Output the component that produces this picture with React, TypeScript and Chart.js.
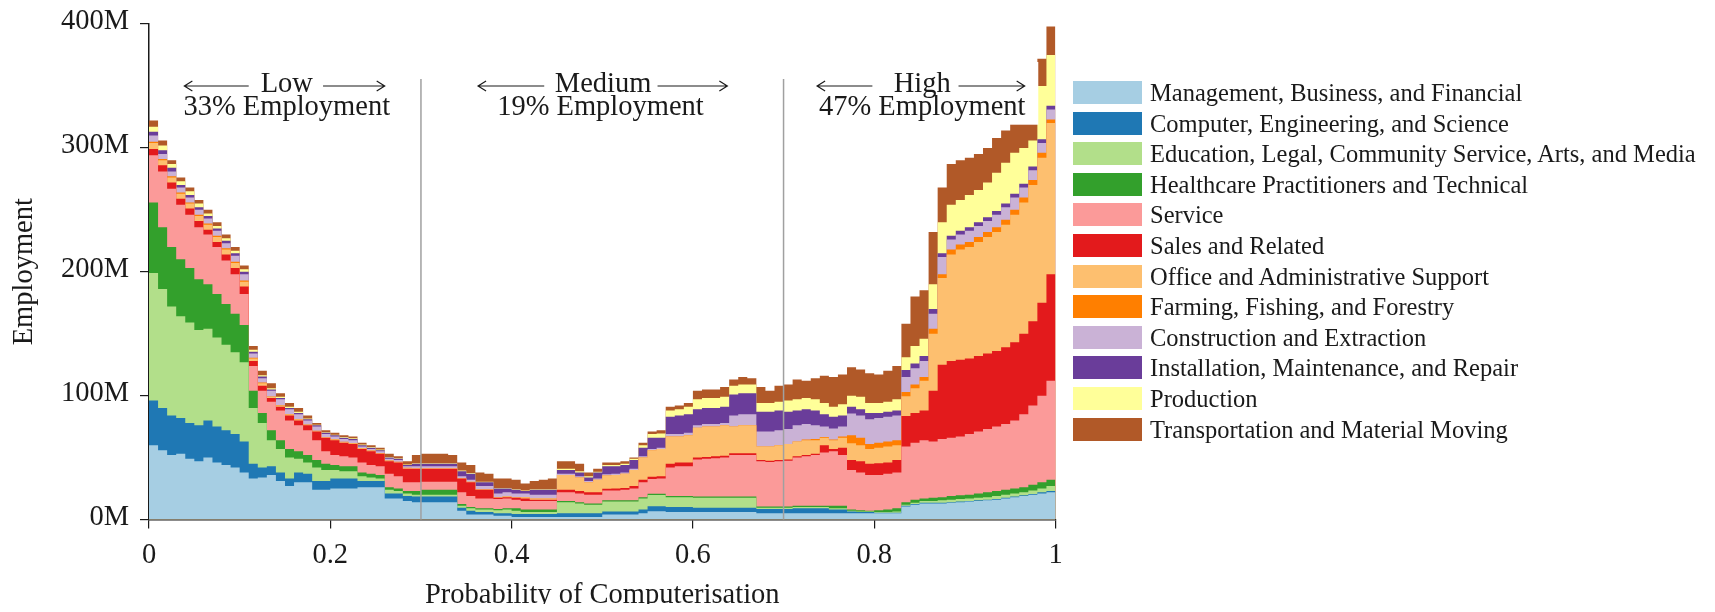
import React, { useEffect, useRef } from 'react';
import { Chart, registerables } from 'chart.js';

Chart.register(...registerables);

// Probability of computerisation (left edge of each step)
const probability = [
  0, 0.01, 0.02, 0.03, 0.04, 0.05, 0.06, 0.07, 0.08, 0.09,
  0.1, 0.11, 0.12, 0.13, 0.14, 0.15, 0.16, 0.17, 0.18, 0.19,
  0.2, 0.21, 0.22, 0.23, 0.24, 0.25, 0.26, 0.27, 0.28, 0.29,
  0.3, 0.31, 0.32, 0.33, 0.34, 0.35, 0.36, 0.37, 0.38, 0.39,
  0.4, 0.41, 0.42, 0.43, 0.44, 0.45, 0.46, 0.47, 0.48, 0.49,
  0.5, 0.51, 0.52, 0.53, 0.54, 0.55, 0.56, 0.57, 0.58, 0.59,
  0.6, 0.61, 0.62, 0.63, 0.64, 0.65, 0.66, 0.67, 0.68, 0.69,
  0.7, 0.71, 0.72, 0.73, 0.74, 0.75, 0.76, 0.77, 0.78, 0.79,
  0.8, 0.81, 0.82, 0.83, 0.84, 0.85, 0.86, 0.87, 0.88, 0.89,
  0.9, 0.91, 0.92, 0.93, 0.94, 0.95, 0.96, 0.97, 0.98, 0.99,
  1,
];

// Employment (millions) per occupational category
const management = [
  60, 56, 52, 53, 49, 47, 50, 46, 44, 42,
  38, 33, 34, 36, 31, 27, 30, 30, 24, 24,
  25, 25, 25, 26, 26, 26, 17, 17, 15, 14,
  14, 14, 14, 14, 7, 4, 4, 4, 3, 3,
  2, 2, 2, 2, 2, 2, 2, 2, 2, 2,
  4, 4, 4, 4, 5, 6.7, 6.7, 6, 6, 6,
  6, 6, 6, 6, 6, 6, 6, 5, 5, 5,
  5, 5, 5, 5, 5, 5, 5, 5, 5, 5,
  5, 5, 5, 10.5, 12, 13, 13, 13, 13.5, 14,
  14.5, 15, 15.5, 16, 17, 18, 19, 20, 21, 22,
  22,
];
const computer = [
  36, 34, 32, 29, 29, 29, 30, 29, 28, 27,
  25, 12, 8, 7, 7, 6, 8, 7, 7, 7,
  8, 8, 8, 5, 5, 5, 4, 4, 4, 4.5,
  4.5, 4.5, 4.5, 4.5, 2.5, 3, 2, 2, 2, 2,
  2.5, 2.5, 2.5, 2.5, 2.5, 3, 3, 3, 3, 3,
  2.5, 2.5, 2.5, 2.5, 3, 4, 4, 4, 4, 4,
  3.5, 3.5, 3.5, 3.5, 3.5, 3.5, 3.5, 3.5, 3.5, 3.5,
  3.5, 4, 4, 4, 4, 3, 3, 1.5, 1, 1,
  0.5, 0.5, 0.5, 0.5, 0.5, 0.5, 0.5, 0.5, 0.5, 0.5,
  0.5, 0.5, 0.5, 0.5, 0.5, 0.5, 0.5, 0.5, 1, 1,
  1,
];
const education = [
  103, 96, 88, 82, 81, 77, 74, 72, 69, 66,
  64, 45, 36, 21, 19, 17, 11, 9, 11, 9,
  7, 6, 6, 4, 3, 2, 3, 2, 2, 1.5,
  1.5, 1.5, 1.5, 1.5, 1.5, 2, 2, 2, 2.5, 3,
  2.5, 1.5, 1.5, 1.5, 1.5, 9, 9, 8, 7, 7,
  8, 8, 8, 8, 9, 9, 9, 8, 8, 8,
  8, 8, 8, 8, 8, 8, 8, 1, 1, 1,
  1, 1, 1, 1, 1, 1, 1, 0.5, 0.5, 0.5,
  0.5, 0.5, 1, 1, 1, 1.5, 1.5, 2, 2, 2,
  2, 2, 2, 2.5, 2.5, 2.5, 2.5, 3, 3, 4,
  4,
];
const healthcare = [
  57, 50, 48, 46, 44, 41, 36, 35, 33, 31,
  30, 14, 8, 8, 7, 7, 6, 6, 6, 5,
  4, 4, 4, 3, 3, 3, 2, 2, 2, 3,
  4, 4, 4, 4, 1.5, 1, 1, 1, 1, 1,
  2, 2, 2, 2, 2, 1, 1, 1, 1, 1,
  1, 1, 1, 1, 1, 1, 1, 1, 1, 1,
  1, 1, 1, 1, 1, 1, 1, 1, 1, 1,
  1, 1, 1, 1, 1, 2, 2, 1, 1, 0.5,
  1.5, 2, 2.5, 2, 2.5, 2, 2.5, 2.5, 3, 3,
  3, 3.5, 4, 4, 4, 4, 4, 4.5, 5, 5,
  5,
];
const service = [
  38, 45, 47, 44, 43, 42, 40, 38, 35, 32,
  25, 20, 18, 23, 24, 23, 21, 20, 16, 10,
  8, 8, 7, 8, 7, 7, 11, 10, 7, 7,
  6.5, 6.5, 6.5, 6.5, 9.5, 9, 8, 8, 8, 8,
  7, 7, 7, 7, 7, 7, 7, 7, 7, 7,
  8, 8, 8.5, 9.5, 12, 12, 12.3, 23, 24, 24,
  30, 30.5, 31, 31.5, 33.5, 33.5, 33.5, 36.5, 36, 36.5,
  37, 39, 40, 41, 43, 44, 41, 32, 30.5, 29,
  28.5, 29, 29, 45, 46, 47, 45.5, 47, 47, 47.5,
  49, 50, 51, 52, 53, 55, 59, 64, 70, 80,
  80,
];
const sales = [
  5, 5, 5, 5, 5, 5, 4, 4, 5, 5,
  6, 4, 4, 3, 3, 4, 4, 4, 7, 11,
  12, 11, 11, 11, 11, 10, 10, 11, 11, 11,
  10.5, 10.5, 10.5, 10.5, 11, 11, 7, 7, 1, 1,
  1.5, 2, 1, 1, 1, 2, 2, 2, 2, 2,
  1.3, 1.5, 1.5, 2, 2, 1.8, 2, 3, 3, 3,
  1.5, 1.5, 1.5, 1.5, 1.5, 1.5, 1.5, 1, 1, 1,
  1, 1, 1, 1, 6, 2, 6, 8, 9, 9,
  9.5, 9, 10, 24.5, 24, 24, 41, 60, 62, 62,
  61, 61, 61, 61, 62, 63, 65, 68, 75, 86,
  86,
];
const office = [
  5, 4, 4, 4, 4, 4, 4, 4, 4, 4,
  4, 2, 2, 1, 1, 1, 1, 0.5, 0.5, 0.5,
  0.5, 0.5, 0.5, 0.5, 0.5, 0.5, 0.5, 0.5, 0.5, 0.5,
  0.5, 0.5, 0.5, 0.5, 0.5, 0.5, 0.5, 0.5, 0.5, 0.5,
  0.5, 1, 1, 1, 1, 12, 12, 11, 8, 10,
  10.8, 11, 11.5, 13, 18, 21.5, 22, 22, 21, 22,
  24, 24.5, 24, 24.5, 21.5, 22.5, 22.5, 11, 11.5, 12,
  12.5, 12, 12, 11, 6, 7, 8, 13.5, 13, 12,
  12.5, 13, 12, 16, 20, 24, 46, 70, 86, 89,
  90, 92, 94, 96, 99, 103, 106, 110, 117, 122,
  122,
];
const farming = [
  1, 1, 1, 1, 1, 1, 1, 1, 1, 1,
  1, 0.5, 0.5, 0.2, 0.2, 0.2, 0.2, 0.2, 0.2, 0.2,
  0.2, 0.2, 0.2, 0.2, 0.2, 0.2, 0.2, 0.2, 0.2, 0,
  0, 0, 0, 0, 0, 0, 0, 0, 0, 0,
  0, 0, 0, 0, 0, 0, 0, 0, 0, 0,
  0, 0, 0, 0, 0, 0, 0, 0, 0, 0,
  0, 0, 0, 0, 0, 0, 0, 0, 0, 0,
  0, 0, 0.5, 1, 0.5, 0.5, 1, 6.5, 6, 4,
  4, 4, 4, 3.5, 3, 3, 4, 3, 4, 4,
  4, 4, 4, 4, 4, 4, 4, 4, 4, 3,
  3,
];
const construction = [
  5, 4, 4, 4, 4, 4, 4, 4, 4, 5,
  5, 3.5, 3.5, 4.8, 4.8, 3.8, 3.8, 3.3, 3.3, 2.3,
  2.3, 2.3, 2.3, 1.3, 1.3, 1.3, 1.3, 1.3, 1.3, 1.5,
  1.5, 1.5, 1.5, 1.5, 1.5, 1.5, 2.5, 2.5, 3, 3.5,
  3, 3, 3, 3, 3, 1, 1, 1, 1, 1,
  1, 1, 1, 1, 1, 1, 1, 2, 2, 2,
  2, 2, 2, 2, 9, 9, 9, 12, 12, 12,
  12, 13, 12.5, 11, 8.5, 9, 8, 17.5, 18, 20,
  20, 20, 20, 12, 13, 13, 12, 14, 8, 8,
  9, 9, 9, 10, 10, 10, 8, 8, 8, 8,
  8,
];
const installation = [
  3, 3, 3, 2, 2, 2, 2, 2, 2, 2,
  2, 1.5, 1.5, 1, 1, 1, 1, 1, 1, 1,
  1, 1, 1, 1, 1, 1, 1, 1, 1, 2,
  2, 2, 2, 2, 4, 5, 3, 3, 4, 3,
  3, 2, 4, 4, 4, 3, 3, 3, 3, 5,
  6.4, 6, 6, 7, 7, 9, 8, 14, 15, 15,
  13, 13, 13, 13, 17, 17, 17, 16, 16, 16,
  14, 12, 12, 12, 10, 9.5, 9, 5.5, 5, 5,
  4, 4, 4, 5.6, 4, 4, 4, 3, 3, 3,
  3, 3, 3, 3, 3, 3, 3, 3, 3, 3,
  3,
];
const production = [
  4, 4, 3, 3, 3, 3, 2, 2, 2, 2,
  2, 1.5, 1, 1, 1, 1, 1, 0.5, 0.5, 0.5,
  0.5, 0.5, 0.5, 0.5, 0.5, 0.5, 0.5, 0.5, 0.5, 0.5,
  0.5, 0.5, 0.5, 0.5, 0.5, 0.5, 0.5, 0.5, 0.5, 0.5,
  0.5, 0.5, 0.5, 0.5, 0.5, 1, 1, 1, 1, 0.5,
  1, 1, 1, 1, 2, 3, 3.5, 5, 5, 6,
  8, 8, 8, 8, 7, 7, 7, 7, 7, 7,
  9, 9, 9, 9, 9, 8, 9, 9, 10, 8,
  8, 8, 9, 10.4, 14, 14, 20, 25, 25, 25,
  26, 26, 28, 31, 33, 33, 29, 21, 43, 41,
  41,
];
const transportation = [
  5, 4, 3, 3, 3, 3, 3, 3, 3, 3,
  3, 3, 3.5, 4, 3, 3, 3, 2.5, 1.5, 1.5,
  1.5, 1.5, 1.5, 1.5, 1.5, 1.5, 2.5, 1.5, 2.5, 6.5,
  7.5, 7.5, 7.5, 6.5, 6.5, 6.5, 7.5, 6.5, 7.5, 7.5,
  7.5, 5.5, 6.5, 7.5, 8.5, 6, 6, 6, 3, 2.5,
  2, 2, 2, 1, 2, 2, 2.5, 3, 3, 3,
  7, 7, 7, 8, 5, 6, 5, 13, 10, 13,
  13, 16, 14, 17, 22, 24, 24, 23, 22, 24,
  23, 25, 27, 27, 40, 39, 42, 28, 33, 32,
  30, 29, 28, 28, 26, 24, 26, 32, 22, 23,
  23,
];

const seriesNames = [
  'Management, Business, and Financial',
  'Computer, Engineering, and Science',
  'Education, Legal, Community Service, Arts, and Media',
  'Healthcare Practitioners and Technical',
  'Service',
  'Sales and Related',
  'Office and Administrative Support',
  'Farming, Fishing, and Forestry',
  'Construction and Extraction',
  'Installation, Maintenance, and Repair',
  'Production',
  'Transportation and Material Moving',
];
const seriesColors = [
  '#a6cee3', '#1f78b4', '#b2df8a', '#33a02c', '#fb9a99', '#e31a1c',
  '#fdbf6f', '#ff7f00', '#cab2d6', '#6a3d9a', '#ffff99', '#b15928',
];

const xTicks = [0, 0.2, 0.4, 0.6, 0.8, 1];
const yTicks = [0, 100, 200, 300, 400];

const zoneNames = ['Low', 'Medium', 'High'];
const zoneShares = ['33% Employment', '19% Employment', '47% Employment'];
const zoneBoundaries = [0.3, 0.7];

const SERIF = '"Liberation Serif", "Times New Roman", serif';
const W = 1715;
const H = 612;

export default function App() {
  const ref = useRef<HTMLCanvasElement>(null);

  useEffect(() => {
    const canvas = ref.current;
    if (!canvas) return;
    const series = [
      management, computer, education, healthcare, service, sales,
      office, farming, construction, installation, production, transportation,
    ];
    // Each layer is filled from its stacked top down to zero; datasets are drawn
    // from the last to the first, so lower layers cover the upper ones seamlessly.
    const datasets = series.map((vals, i) => ({
      label: seriesNames[i],
      data: vals.map((v, j) => ({ x: probability[j], y: v })),
      backgroundColor: seriesColors[i],
      borderColor: 'transparent',
      borderWidth: 0,
      pointRadius: 0,
      pointHoverRadius: 0,
      stepped: 'before' as const,
      tension: 0,
      fill: 'origin',
    }));

    const zonePlugin = {
      id: 'zones',
      afterDatasetsDraw(chart: any) {
        const { ctx, chartArea } = chart;
        const xs = chart.scales.x;
        const top = chartArea.top;
        const px = (v: number) => xs.getPixelForValue(v);
        ctx.save();
        // white box behind the "High" label
        ctx.fillStyle = '#ffffff';
        ctx.fillRect(px(0.733), top + 38, px(0.981) - px(0.733), 62.7);
        // boundary lines
        ctx.strokeStyle = '#a0a0a0';
        ctx.lineWidth = 1.5;
        zoneBoundaries.forEach((b) => {
          ctx.beginPath();
          ctx.moveTo(px(b), top + 55);
          ctx.lineTo(px(b), chartArea.bottom);
          ctx.stroke();
        });
        // labels
        const nameCenters = [0.152, 0.501, 0.853];
        const shareCenters = [0.152, 0.498, 0.853];
        const leftArrows = [[0.039, 0.11], [0.363, 0.436], [0.737, 0.798]];
        const rightArrows = [[0.192, 0.26], [0.561, 0.638], [0.893, 0.966]];
        ctx.fillStyle = '#1a1a1a';
        ctx.font = `28.5px ${SERIF}`;
        ctx.textAlign = 'center';
        ctx.textBaseline = 'middle';
        const row1 = top + 61;
        const row2 = top + 84;
        zoneNames.forEach((n, i) => {
          ctx.fillText(n, px(nameCenters[i]), row1);
          ctx.fillText(zoneShares[i], px(shareCenters[i]), row2);
        });
        ctx.strokeStyle = '#1a1a1a';
        ctx.lineWidth = 1.2;
        const ay = row1 + 1;
        leftArrows.forEach(([a, b]) => {
          const x1 = px(a), x2 = px(b);
          ctx.beginPath();
          ctx.moveTo(x1, ay); ctx.lineTo(x2, ay);
          ctx.moveTo(x1 + 8, ay - 5); ctx.lineTo(x1, ay); ctx.lineTo(x1 + 8, ay + 5);
          ctx.stroke();
        });
        rightArrows.forEach(([a, b]) => {
          const x1 = px(a), x2 = px(b);
          ctx.beginPath();
          ctx.moveTo(x1, ay); ctx.lineTo(x2, ay);
          ctx.moveTo(x2 - 8, ay - 5); ctx.lineTo(x2, ay); ctx.lineTo(x2 - 8, ay + 5);
          ctx.stroke();
        });
        ctx.restore();
      },
    };

    const tickFont = { family: SERIF, size: 28.5, lineHeight: 1 };
    const chart = new Chart(canvas, {
      type: 'line',
      data: { datasets: datasets as any },
      options: {
        responsive: false,
        animation: false,
        devicePixelRatio: 1,
        events: [],
        layout: { padding: { top: 24, right: W - 1055.5, bottom: 0, left: 0 } },
        plugins: { legend: { display: false }, tooltip: { enabled: false } },
        scales: {
          x: {
            type: 'linear',
            min: 0,
            max: 1,
            afterBuildTicks: (scale: any) => {
              scale.ticks = xTicks.map((v) => ({ value: v }));
            },
            afterFit: (scale: any) => {
              scale.height = H - 519.5;
              scale.paddingLeft = 0;
              scale.paddingRight = 0;
            },
            ticks: {
              font: tickFont,
              color: '#1a1a1a',
              padding: 13,
              maxRotation: 0,
              callback: (v: any) => String(Math.round(Number(v) * 10) / 10),
            },
            grid: { drawOnChartArea: false, drawTicks: true, tickLength: 9, color: '#1a1a1a', lineWidth: 1.2 },
            border: { display: true, color: '#1a1a1a', width: 1.5 },
            title: {
              display: true,
              text: 'Probability of Computerisation',
              font: { family: SERIF, size: 28.5, lineHeight: 1 },
              color: '#1a1a1a',
              padding: { top: 0, bottom: 2 },
            },
          },
          y: {
            stacked: true,
            min: 0,
            max: 400,
            afterBuildTicks: (scale: any) => {
              scale.ticks = yTicks.map((v) => ({ value: v }));
            },
            afterFit: (scale: any) => {
              scale.width = 149;
              scale.paddingTop = 0;
              scale.paddingBottom = 0;
            },
            ticks: {
              font: tickFont,
              color: '#1a1a1a',
              padding: 11,
              labelOffset: -2,
              callback: (v: any) => `${v}M`,
            },
            grid: { drawOnChartArea: false, drawTicks: true, tickLength: 9, color: '#1a1a1a', lineWidth: 1.2 },
            border: { display: true, color: '#1a1a1a', width: 1.5 },
            title: {
              display: true,
              text: 'Employment',
              font: { family: SERIF, size: 28.5, lineHeight: 1 },
              color: '#1a1a1a',
              padding: { top: 10, bottom: 0 },
            },
          },
        },
      },
      plugins: [zonePlugin],
    });
    return () => chart.destroy();
  }, []);

  return (
    <div style={{ position: 'relative', width: W, height: H, margin: -8, overflow: 'hidden' }}>
      <canvas ref={ref} width={W} height={H} style={{ display: 'block' }} />
      <div style={{ position: 'absolute', left: 1073, top: 81 }}>
        {seriesNames.map((n, i) => (
          <div
            key={n}
            style={{
              position: 'absolute',
              left: 0,
              top: i * 30.6,
              height: 23,
              display: 'flex',
              alignItems: 'center',
              whiteSpace: 'nowrap',
            }}
          >
            <div style={{ width: 69, height: 23, background: seriesColors[i], flex: 'none' }} />
            <span
              style={{
                marginLeft: 8,
                fontFamily: SERIF,
                fontSize: '24.5px',
                lineHeight: '23px',
                color: '#1a1a1a',
              }}
            >
              {n}
            </span>
          </div>
        ))}
      </div>
    </div>
  );
}
